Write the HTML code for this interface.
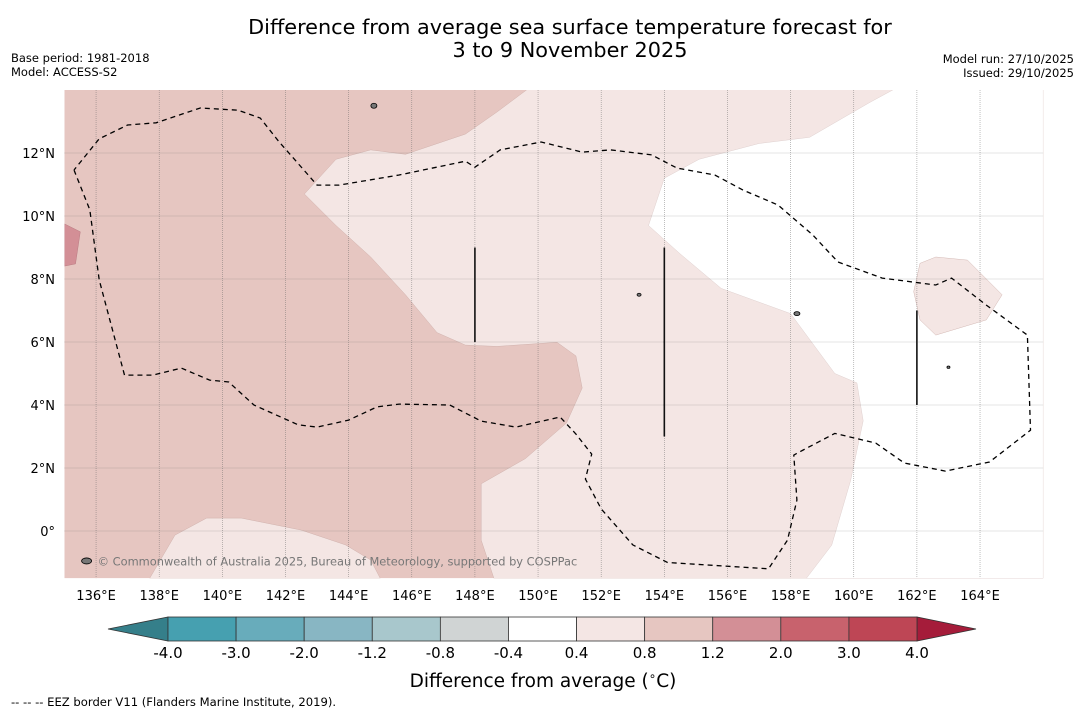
<!DOCTYPE html>
<html><head><meta charset="utf-8">
<style>
html,body{margin:0;padding:0;background:#fff;width:1085px;height:713px;overflow:hidden}
svg{display:block;font-family:"DejaVu Sans","Liberation Sans",sans-serif}
</style></head>
<body>
<svg id="chart" width="1085" height="713" viewBox="0 0 1085 713">
<text x="570" y="34" font-size="20.8" text-anchor="middle">Difference from average sea surface temperature forecast for</text>
<text x="570" y="57" font-size="20.8" text-anchor="middle">3 to 9 November 2025</text>
<text x="11" y="62" font-size="11.5">Base period: 1981-2018</text>
<text x="11" y="76" font-size="11.5">Model: ACCESS-S2</text>
<text x="1074" y="63" font-size="11.5" text-anchor="end">Model run: 27/10/2025</text>
<text x="1074" y="77" font-size="11.5" text-anchor="end">Issued: 29/10/2025</text>
<g id="map"></g>
<g id="axes"></g>
<g id="cbar"></g>
<text x="543" y="687" font-size="18.5" text-anchor="middle">Difference from average (<tspan font-size="12" dy="-7">∘</tspan><tspan dy="7">C)</tspan></text>
<text x="11" y="706" font-size="11.6">--  --  -- EEZ border V11 (Flanders Marine Institute, 2019).</text>
</svg>
<script>
// Axis extents
const lonMin=135, lonMax=166, latMin=-1.5, latMax=14;
const lonTicks=[136,138,140,142,144,146,148,150,152,154,156,158,160,162,164];
const latTicks=[0,2,4,6,8,10,12];
// colorbar data
const cbLevels=[-4.0,-3.0,-2.0,-1.2,-0.8,-0.4,0.4,0.8,1.2,2.0,3.0,4.0];
const cbColors=["#46a0b0","#68acbb","#88b6c3","#a8c7cc","#d0d4d4","#ffffff","#f4e6e4","#e6c6c1","#d38f96","#c8626d","#be4655"];
const cbUnder="#357f8a", cbOver="#a51c3a";
// regions (lon,lat)
const lightRegion=[[149.9,14.2],[148.7,13.3],[147.7,12.6],[145.8,11.96],[144.7,12.1],[143.6,11.8],[142.6,10.7],[143.6,9.7],[144.7,8.7],[145.8,7.5],[146.8,6.3],[147.7,5.9],[148.7,5.86],[150.6,5.99],[151.2,5.56],[151.4,4.54],[150.9,3.43],[149.6,2.3],[148.2,1.5],[148.2,-0.29],[148.6,-1.5],[166,-1.5],[166,14.2]];
const whiteRegion=[[161.6,14.2],[160.5,13.6],[158.6,12.5],[157.0,12.3],[155.1,11.8],[154.0,11.2],[153.5,9.7],[154.5,8.8],[155.8,7.7],[158.0,6.9],[159.4,5.0],[160.1,4.7],[160.3,3.5],[159.9,1.6],[159.3,-0.45],[158.5,-1.5],[166,-1.5],[166,14.2]];
const lightBlob=[[162.1,8.5],[162.6,8.7],[163.6,8.6],[164.7,7.5],[164.2,6.7],[162.6,6.22],[162.1,6.7],[161.9,7.6]];
const lightSouth=[[137.7,-1.5],[138.5,-0.13],[139.5,0.41],[140.6,0.41],[142.5,0.03],[143.9,-0.44],[144.7,-0.92],[145.0,-1.5]];
const darkPatch=[[135,9.75],[135.5,9.5],[135.35,8.48],[135,8.41]];
const eez=[[135.3,11.46],[135.8,10.2],[136.1,7.97],[136.9,4.95],[137.8,4.95],[138.7,5.17],[139.6,4.79],[140.2,4.73],[141.0,4.0],[142.4,3.37],[143.0,3.3],[144.0,3.52],[144.9,3.94],[145.6,4.03],[147.2,4.0],[148.2,3.49],[149.3,3.3],[150.7,3.62],[151.2,3.08],[151.7,2.44],[151.5,1.65],[152.0,0.7],[153.0,-0.44],[154.1,-1.0],[157.3,-1.2],[157.9,-0.29],[158.2,0.98],[158.1,2.41],[158.4,2.57],[159.4,3.1],[160.7,2.79],[161.6,2.16],[162.9,1.9],[164.3,2.19],[165.6,3.2],[165.5,6.22],[164.2,7.17],[163.1,8.03],[162.6,7.81],[160.9,8.03],[159.5,8.54],[158.7,9.4],[157.6,10.35],[156.5,10.82],[155.6,11.3],[154.4,11.52],[153.6,11.94],[152.3,12.1],[151.4,12.03],[150.1,12.35],[148.8,12.1],[148.0,11.55],[147.7,11.74],[145.6,11.3],[143.7,10.98],[143.0,10.98],[141.8,12.35],[141.2,13.11],[140.5,13.36],[139.3,13.43],[137.9,12.96],[137.0,12.89],[136.1,12.45],[135.3,11.46]];
const ridgeLines=[[148,9.0,6.0],[154,9.0,3.0],[162,7.0,4.0]];
function X(lon){return 64.5+(lon-lonMin)*31.57;}
function Y(lat){return 531-lat*31.5;}
const NS="http://www.w3.org/2000/svg";
function mk(tag,attrs,parent){const e=document.createElementNS(NS,tag);for(const k in attrs)e.setAttribute(k,attrs[k]);parent.appendChild(e);return e;}
function pts(a){return a.map(p=>X(p[0]).toFixed(1)+","+Y(p[1]).toFixed(1)).join(" ");}
const map=document.getElementById("map"),axes=document.getElementById("axes"),cb=document.getElementById("cbar");
const x0=X(lonMin),x1=X(lonMax),y0=Y(latMax),y1=Y(latMin);
mk("clipPath",{id:"clip"},map).appendChild(document.createElementNS(NS,"rect"));
const cr=map.querySelector("#clip rect");cr.setAttribute("x",x0);cr.setAttribute("y",y0);cr.setAttribute("width",x1-x0);cr.setAttribute("height",y1-y0);
const g=mk("g",{"clip-path":"url(#clip)"},map);
let el=mk("rect",{x:x0,y:y0,width:x1-x0,height:y1-y0,fill:"#e6c6c1"},g);


el=mk("polygon",{points:pts(lightRegion),fill:"#f4e6e4",stroke:"#c9a9a5","stroke-width":0.4},g);


el=mk("polygon",{points:pts(whiteRegion),fill:"#ffffff",stroke:"#d8c8c6","stroke-width":0.4},g);


el=mk("polygon",{points:pts(lightBlob),fill:"#f4e6e4",stroke:"#c9a9a5","stroke-width":0.4},g);


el=mk("polygon",{points:pts(lightSouth),fill:"#f4e6e4",stroke:"#c9a9a5","stroke-width":0.4},g);


el=mk("polygon",{points:pts(darkPatch),fill:"#d38f96",stroke:"#b07078","stroke-width":0.4},g);


lonTicks.forEach(l=>{const e=mk("line",{x1:X(l),x2:X(l),y1:y0,y2:y1,stroke:"#666","stroke-width":0.6,"stroke-dasharray":"1,1","stroke-opacity":0.7},g);

});
latTicks.forEach(l=>{const e=mk("line",{x1:x0,x2:x1,y1:Y(l),y2:Y(l),stroke:"#666","stroke-width":0.6,"stroke-dasharray":"1,1","stroke-opacity":0.7},g);

});
el=mk("polyline",{points:pts(eez),fill:"none",stroke:"#000","stroke-width":1.3,"stroke-dasharray":"5,4"},g);


ridgeLines.forEach(r=>{const e=mk("line",{x1:X(r[0]),x2:X(r[0]),y1:Y(r[1]),y2:Y(r[2]),stroke:"#111","stroke-width":1.6},g);

});
[[144.8,13.5,3,2.5],[135.7,-0.95,5,3],[153.2,7.5,2,1.5],[158.2,6.9,3,2],[163.0,5.2,1.5,1.2]].forEach(p=>{const e=mk("ellipse",{cx:X(p[0]),cy:Y(p[1]),rx:p[2],ry:p[3],fill:"#777",stroke:"#000","stroke-width":0.8},g);

});
el=mk("text",{x:X(136.05),y:Y(-1.1),"font-size":11.4,fill:"#777"},g);
el.textContent="© Commonwealth of Australia 2025, Bureau of Meteorology, supported by COSPPac";


lonTicks.forEach(l=>{const e=mk("text",{x:X(l),y:600,"font-size":13,"text-anchor":"middle"},axes);e.textContent=l+"°E";

});
latTicks.forEach(l=>{const e=mk("text",{x:55,y:Y(l)+5,"font-size":13,"text-anchor":"end"},axes);e.textContent=l===0?"0°":l+"°N";

});
// colorbar
const cbL=168,cbR=917,cbT=617,cbB=641,segW=(cbR-cbL)/cbColors.length;
function CB(i){return cbL+i*segW;}
el=mk("polygon",{points:`108,629 ${cbL},${cbT} ${cbL},${cbB}`,fill:cbUnder,stroke:"#333","stroke-width":0.8},cb);


el=mk("polygon",{points:`976,629 ${cbR},${cbT} ${cbR},${cbB}`,fill:cbOver,stroke:"#333","stroke-width":0.8},cb);


cbColors.forEach((c,i)=>{const e=mk("rect",{x:CB(i),y:cbT,width:segW,height:cbB-cbT,fill:c,stroke:"#333","stroke-width":0.8},cb);

});
cbLevels.forEach((v,i)=>{const e=mk("text",{x:CB(i),y:658,"font-size":15,"text-anchor":"middle"},cb);e.textContent=v.toFixed(1);

});
</script>
</body></html>
